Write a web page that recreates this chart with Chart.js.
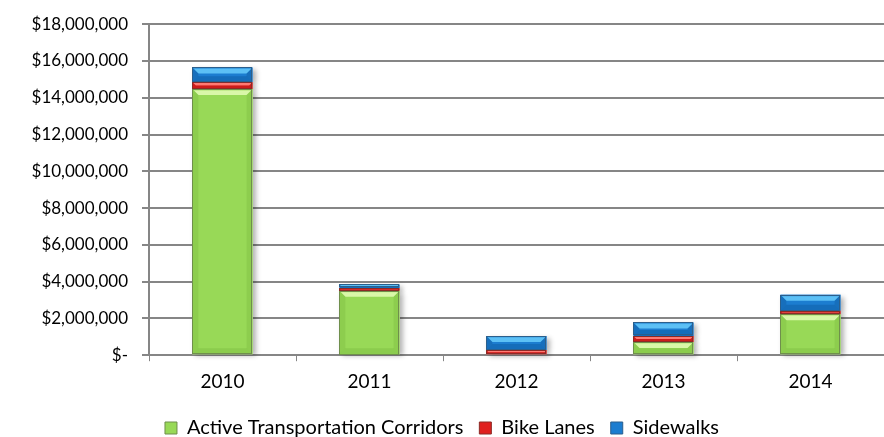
<!DOCTYPE html>
<html>
<head>
<meta charset="utf-8">
<script src="https://cdn.jsdelivr.net/npm/chart.js@4.4.1/dist/chart.umd.min.js"></script>
<style>
  html, body { margin: 0; padding: 0; background: #ffffff; overflow: hidden; }
  #wrap { width: 884px; height: 437px; position: relative; }
</style>
</head>
<body>
<div id="wrap"><canvas id="fundingChart"></canvas></div>
<script>
// Spending by year and project type
const years = ["2010", "2011", "2012", "2013", "2014"];
const corridors = [14470000, 3510000, 0, 720000, 2230000];
const bikeLanes = [380000, 150000, 280000, 330000, 190000];
const sidewalks = [800000, 190000, 770000, 730000, 870000];
const yTicks = [0, 2000000, 4000000, 6000000, 8000000, 10000000, 12000000, 14000000, 16000000, 18000000];

// body / highlight / shade / border per series
const palette = {
  green: { body: "#98d957", light: "#d9f7a8", dark: "#78b83e", edge: "#6f8f4c" },
  red:   { body: "#e0201f", light: "#ff7a72", dark: "#b01313", edge: "#8c2a26" },
  blue:  { body: "#1c7dd0", light: "#5cc0f5", dark: "#0d5699", edge: "#2b5f8c" }
};

const fontFamily = "Lato, 'Noto Sans', sans-serif";

function money(v) {
  if (v === 0) return "$-";
  return "$" + v.toLocaleString("en-US");
}

// Soft bevel + drop shadow drawn around each bar segment
const bevelPlugin = {
  id: "bevel",
  beforeDatasetsDraw(chart) {
    const ctx = chart.ctx;
    ctx.save();
    chart.data.datasets.forEach((ds, i) => {
      const meta = chart.getDatasetMeta(i);
      meta.data.forEach((bar) => {
        const h = Math.abs(bar.base - bar.y);
        if (h < 0.5) return;
        ctx.shadowColor = "rgba(0,0,0,0.3)";
        ctx.shadowBlur = 5;
        ctx.shadowOffsetX = 3;
        ctx.shadowOffsetY = 2;
        ctx.fillStyle = "#ffffff";
        ctx.fillRect(bar.x - bar.width / 2, Math.min(bar.y, bar.base), bar.width, h);
      });
    });
    ctx.restore();
  },
  afterDatasetsDraw(chart) {
    const ctx = chart.ctx;
    chart.data.datasets.forEach((ds, i) => {
      const meta = chart.getDatasetMeta(i);
      const c = ds.colors;
      meta.data.forEach((bar) => {
        const top = Math.min(bar.y, bar.base);
        const bottom = Math.max(bar.y, bar.base);
        const h = bottom - top;
        if (h < 0.5) return;
        const l = bar.x - bar.width / 2;
        const r = bar.x + bar.width / 2;
        const b = Math.min(6, h / 2);
        ctx.save();
        // top highlight
        const g = ctx.createLinearGradient(0, top, 0, top + b);
        g.addColorStop(0, c.body);
        g.addColorStop(0.35, c.light);
        g.addColorStop(1, c.light);
        ctx.fillStyle = g;
        ctx.beginPath();
        ctx.moveTo(l, top);
        ctx.lineTo(r, top);
        ctx.lineTo(r - b, top + b);
        ctx.lineTo(l + b, top + b);
        ctx.closePath();
        ctx.fill();
        // side and bottom shading
        ctx.fillStyle = c.dark;
        ctx.globalAlpha = 0.35;
        ctx.beginPath();
        ctx.moveTo(l, top);
        ctx.lineTo(l + b, top + b);
        ctx.lineTo(l + b, bottom - b);
        ctx.lineTo(l, bottom);
        ctx.closePath();
        ctx.fill();
        ctx.beginPath();
        ctx.moveTo(r, top);
        ctx.lineTo(r - b, top + b);
        ctx.lineTo(r - b, bottom - b);
        ctx.lineTo(r, bottom);
        ctx.closePath();
        ctx.fill();
        ctx.globalAlpha = 0.4;
        ctx.beginPath();
        ctx.moveTo(l, bottom);
        ctx.lineTo(l + b, bottom - b);
        ctx.lineTo(r - b, bottom - b);
        ctx.lineTo(r, bottom);
        ctx.closePath();
        ctx.fill();
        ctx.globalAlpha = 1;
        ctx.strokeStyle = c.edge;
        ctx.lineWidth = 1;
        ctx.strokeRect(Math.round(l) + 0.5, Math.round(top) + 0.5, Math.round(r - l) - 1, Math.round(h) - 1);
        ctx.restore();
      });
    });
  }
};

function series(label, data, c) {
  return {
    label: label,
    data: data,
    colors: c,
    backgroundColor: c.body,
    borderWidth: 0,
    categoryPercentage: 1,
    barPercentage: 0.41
  };
}

new Chart(document.getElementById("fundingChart"), {
  type: "bar",
  data: {
    labels: years,
    datasets: [
      series("Active Transportation Corridors", corridors, palette.green),
      series("Bike Lanes", bikeLanes, palette.red),
      series("Sidewalks", sidewalks, palette.blue)
    ]
  },
  options: {
    responsive: true,
    maintainAspectRatio: false,
    animation: false,
    layout: { padding: { top: 14, right: 0, bottom: -11, left: 0 } },
    plugins: {
      legend: {
        position: "bottom",
        labels: {
          font: { family: fontFamily, size: 20 },
          color: "#000000",
          boxWidth: 12,
          boxHeight: 12,
          padding: 16,
          generateLabels(chart) {
            return chart.data.datasets.map((ds, i) => ({
              text: ds.label,
              fillStyle: ds.colors.body,
              strokeStyle: ds.colors.edge,
              lineWidth: 1,
              datasetIndex: i
            }));
          }
        }
      },
      tooltip: { enabled: false }
    },
    scales: {
      x: {
        stacked: true,
        offset: true,
        border: { display: true, color: "#868686", width: 2 },
        grid: { display: true, drawOnChartArea: false, offset: true, tickLength: 6, color: "#868686", lineWidth: 1 },
        ticks: { font: { family: fontFamily, size: 19 }, color: "#000000", padding: 9 }
      },
      y: {
        stacked: true,
        min: 0,
        max: 18000000,
        afterBuildTicks(scale) {
          scale.ticks = yTicks.map((v) => ({ value: v }));
        },
        afterFit(scale) { scale.width = 149; },
        border: { display: true, color: "#868686", width: 2 },
        grid: { color: "#868686", lineWidth: 2, tickLength: 7 },
        ticks: {
          font: { family: fontFamily, size: 17 },
          color: "#000000",
          padding: 14,
          callback: (v) => money(v)
        }
      }
    }
  },
  plugins: [bevelPlugin]
});
</script>
</body>
</html>
